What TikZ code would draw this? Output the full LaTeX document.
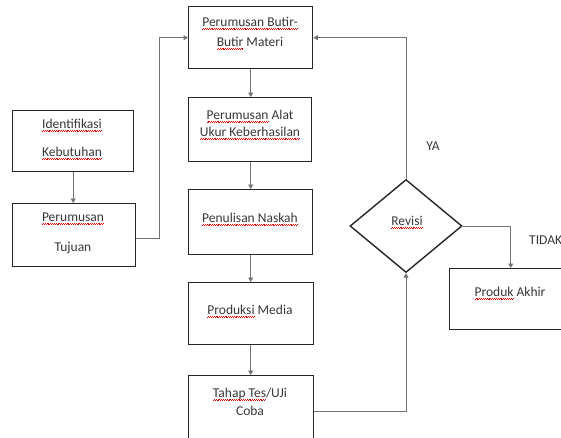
\documentclass[tikz,border=0pt]{standalone}
\usepackage{fontspec}
\setmainfont{Carlito}
\usetikzlibrary{arrows.meta,shapes.geometric,calc}
\newsavebox\rwbox
\newcommand\rw[1]{\sbox\rwbox{#1}\rlap{\hbox to \wd\rwbox{\color{red!85!black}\xleaders\hbox{\rule[-3pt]{0.9pt}{0.6pt}\rule[-2.3pt]{0.9pt}{0.6pt}}\hfill}}\usebox\rwbox}
\begin{document}
\begin{tikzpicture}[x=1pt,y=-1pt,
  font=\fontsize{13.5}{16}\selectfont,
  box/.style={draw=black!85, line width=1.4pt, inner sep=0pt, anchor=north west},
  txt/.style={text=black!78, align=center, inner sep=0pt},
  conn/.style={draw=black!55, line width=0.9pt},
  arr/.style={conn, -{Triangle[width=5pt,length=4.5pt]}}]
\clip (0,0) rectangle (561,437);
\fill[white] (0,0) rectangle (561,437);
% boxes
\node[box, minimum width=121pt, minimum height=61pt] (b1) at (12,110) {};
\node[box, minimum width=123pt, minimum height=63pt] (b2) at (12,203) {};
\node[box, minimum width=124pt, minimum height=62pt] (b3) at (188,6) {};
\node[box, minimum width=123pt, minimum height=64pt] (b4) at (188,97) {};
\node[box, minimum width=124pt, minimum height=65pt] (b5) at (188,189) {};
\node[box, minimum width=125pt, minimum height=62pt] (b6) at (188,282) {};
\node[box, minimum width=125pt, minimum height=72pt] (b7) at (188,375) {};
\node[box, minimum width=122pt, minimum height=61pt] (b8) at (449,268) {};
\node[diamond, draw=black!85, line width=1.4pt, inner sep=0pt, minimum width=112pt, minimum height=93pt] (rev) at (406,226) {};
% texts
\node[txt] (t1) at (72,139) {\rw{Identifikasi}\\[12pt]\rw{Kebutuhan}};
\node[txt] (t2) at (73,233) {\rw{Perumusan}\\[14pt]Tujuan};
\node[txt] (t3) at (250,33) {\rw{Perumusan Butir-}\\[4pt]\rw{Butir} Materi};
\node[txt] (t4) at (250,125) {\rw{Perumusan} Alat\\[1pt]\rw{Ukur Keberhasilan}};
\node[txt] (t5) at (250,219) {\rw{Penulisan Naskah}};
\node[txt] (t6) at (250,311) {\rw{Produksi} Media};
\node[txt] (t7) at (250,402) {\rw{Tahap Tes}/UJi\\[2pt]Coba};
\node[txt] (t8) at (510,293) {\rw{Produk} Akhir};
\node[txt] (t9) at (407,222) {\rw{Revisi}};
\node[txt] (ya) at (433,146) {YA};
\node[txt, anchor=west] (tidak) at (529,240) {TIDAK};
% connectors
\draw[arr] (b1.south) -- (b1.south |- b2.north);
\draw[arr] ($(b2.east)+(0,3.5)$) -- ++(23,0) |- (b3.west);
\draw[arr] (b3.south) -- (b3.south |- b4.north);
\draw[arr] (b4.south -| b3.south) -- (b3.south |- b5.north);
\draw[arr] (b5.south) -- (b5.south |- b6.north);
\draw[arr] (b6.south -| b5.south) -- (b5.south |- b7.north);
\draw[arr] (b7.east) -| (rev.south);
\draw[arr] (rev.north) |- (b3.east);
\draw[arr] (rev.east) -| (b8.north);
\end{tikzpicture}
\end{document}
